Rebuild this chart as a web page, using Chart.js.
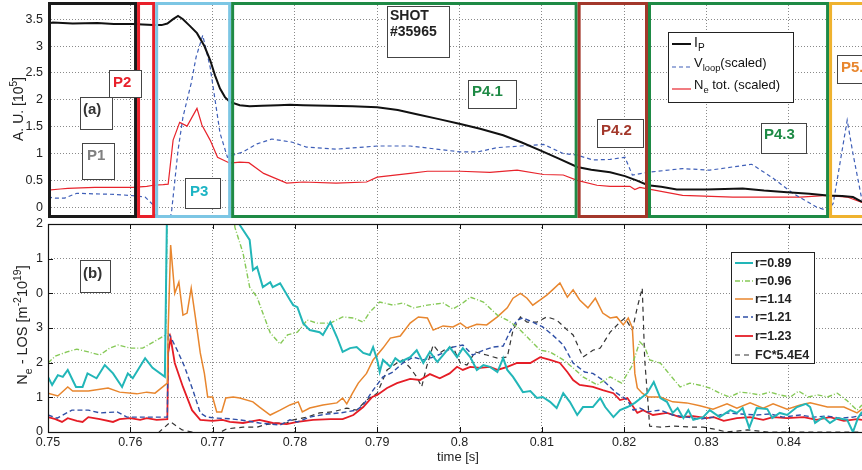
<!DOCTYPE html>
<html>
<head>
<meta charset="utf-8">
<script src="https://cdn.jsdelivr.net/npm/chart.js@4.4.0/dist/chart.umd.min.js"></script>
<style>
html, body { margin: 0; padding: 0; background: #fff; }
#wrap { position: relative; width: 862px; height: 470px; overflow: hidden; }
canvas { position: absolute; left: 0; }
#ca { top: 0; }
#cb { top: 212px; }
</style>
</head>
<body>
<div id="wrap">
  <canvas id="ca" width="862" height="222"></canvas>
  <canvas id="cb" width="862" height="258"></canvas>
</div>
<script>
// ---------- data ----------
const xTicks = [0.75, 0.76, 0.77, 0.78, 0.79, 0.80, 0.81, 0.82, 0.83, 0.84];
const yTicksA = [0, 0.5, 1, 1.5, 2, 2.5, 3, 3.5];
const yLabelsA = ['0', '0.5', '1', '1.5', '2', '2.5', '3', '3.5'];
const yTicksB = [0, 1, 2, 3, 4, 5, 6];
const yLabelsB = ['0', '1', '2', '3', '0', '1', '2'];

// panel (a)
const ipData = [[0.7500,3.42],[0.7506,3.44],[0.7530,3.42],[0.7560,3.43],[0.7580,3.41],[0.7603,3.41],[0.7615,3.40],[0.7628,3.39],[0.7638,3.39],[0.7645,3.42],[0.7652,3.50],[0.7658,3.56],[0.7664,3.50],[0.7672,3.38],[0.7681,3.24],[0.7690,3.00],[0.7697,2.74],[0.7703,2.45],[0.7709,2.21],[0.7715,2.05],[0.7721,1.96],[0.7733,1.90],[0.7745,1.88],[0.7760,1.89],[0.7780,1.90],[0.7794,1.91],[0.7810,1.90],[0.7840,1.89],[0.7870,1.88],[0.7900,1.86],[0.7925,1.81],[0.7948,1.73],[0.7975,1.64],[0.8001,1.55],[0.8025,1.46],[0.8053,1.34],[0.8075,1.21],[0.8098,1.06],[0.8120,0.91],[0.8143,0.75],[0.8160,0.70],[0.8183,0.65],[0.8201,0.58],[0.8215,0.50],[0.8229,0.41],[0.8245,0.38],[0.8264,0.33],[0.8300,0.33],[0.8344,0.35],[0.8370,0.31],[0.8398,0.28],[0.8425,0.25],[0.8447,0.22],[0.8465,0.21],[0.8478,0.19],[0.8489,0.10]];
const vloopData = [[0.7500,0.19],[0.7509,0.17],[0.7520,0.17],[0.7535,0.26],[0.7555,0.25],[0.7580,0.24],[0.7600,0.22],[0.7618,0.19],[0.7628,0.04],[0.7634,-0.4],[0.7645,-0.4],[0.7650,-0.1],[0.7658,1.06],[0.7664,1.68],[0.7674,2.31],[0.7680,2.80],[0.7688,3.20],[0.7697,2.61],[0.7709,1.38],[0.7718,0.93],[0.7725,0.97],[0.7737,1.03],[0.7754,1.18],[0.7772,1.27],[0.7797,1.21],[0.7814,1.12],[0.7850,1.08],[0.7900,1.14],[0.7940,1.14],[0.8001,1.03],[0.8022,1.03],[0.8046,1.11],[0.8074,1.14],[0.8102,1.17],[0.8126,1.00],[0.8143,0.97],[0.8162,0.88],[0.8183,0.89],[0.8201,0.93],[0.8210,0.60],[0.8229,0.65],[0.8271,0.72],[0.8304,0.69],[0.8355,0.80],[0.8381,0.54],[0.8405,0.26],[0.8434,0.00],[0.8447,-0.06],[0.8454,0.07],[0.8471,1.62],[0.8478,1.00],[0.8489,0.13]];
const neTotData = [[0.7500,0.32],[0.7515,0.34],[0.7524,0.35],[0.7540,0.36],[0.7557,0.37],[0.7580,0.37],[0.7603,0.37],[0.7620,0.39],[0.7628,0.41],[0.7640,0.42],[0.7646,0.43],[0.7652,1.25],[0.7660,1.58],[0.7669,1.51],[0.7681,1.84],[0.7687,1.53],[0.7697,1.25],[0.7706,0.93],[0.7721,0.82],[0.7733,0.84],[0.7744,0.83],[0.7762,0.63],[0.7790,0.45],[0.7810,0.47],[0.7850,0.45],[0.7887,0.47],[0.7900,0.56],[0.7940,0.63],[0.7961,0.67],[0.8001,0.67],[0.8037,0.65],[0.8070,0.69],[0.8102,0.61],[0.8126,0.60],[0.8143,0.50],[0.8167,0.41],[0.8183,0.39],[0.8207,0.39],[0.8213,0.33],[0.8219,0.37],[0.8271,0.22],[0.8332,0.19],[0.8414,0.19],[0.8447,0.22],[0.8471,0.19],[0.8489,0.09]];

// panel (b)
const r089 = [[0.7500,1.59],[0.7505,1.36],[0.7512,1.64],[0.7518,1.59],[0.7524,1.79],[0.7534,1.30],[0.7542,1.30],[0.7548,1.69],[0.7559,1.55],[0.7569,1.93],[0.7579,1.69],[0.7590,1.30],[0.7597,1.69],[0.7603,1.55],[0.7618,2.13],[0.7627,1.85],[0.7642,1.59],[0.7646,9.0],[0.7725,9.0],[0.7733,5.97],[0.7745,5.54],[0.7749,4.67],[0.7754,4.76],[0.7761,4.18],[0.7770,4.32],[0.7773,4.18],[0.7782,4.29],[0.7794,3.81],[0.7798,3.66],[0.7803,3.60],[0.7810,3.14],[0.7818,2.94],[0.7830,2.88],[0.7834,2.80],[0.7843,3.17],[0.7851,2.74],[0.7858,2.31],[0.7867,2.42],[0.7875,2.45],[0.7883,2.28],[0.7891,2.22],[0.7895,2.45],[0.7900,2.08],[0.7903,1.73],[0.7907,2.08],[0.7916,1.88],[0.7922,2.13],[0.7928,2.02],[0.7940,2.16],[0.7948,2.36],[0.7956,1.99],[0.7964,2.31],[0.7973,2.02],[0.7980,2.22],[0.7988,2.45],[0.7997,2.16],[0.8004,2.42],[0.8013,2.16],[0.8021,1.79],[0.8029,1.93],[0.8037,1.88],[0.8046,1.73],[0.8053,2.13],[0.8058,1.79],[0.8065,1.59],[0.8070,1.41],[0.8077,1.15],[0.8086,1.18],[0.8094,0.98],[0.8101,1.01],[0.8110,0.87],[0.8118,0.69],[0.8126,1.12],[0.8134,0.87],[0.8143,0.49],[0.8150,0.72],[0.8162,0.72],[0.8171,0.98],[0.8177,0.72],[0.8187,0.43],[0.8195,0.63],[0.8204,0.72],[0.8213,0.84],[0.8228,1.12],[0.8236,1.44],[0.8244,0.98],[0.8252,0.87],[0.8259,0.55],[0.8265,0.69],[0.8272,0.40],[0.8278,0.63],[0.8284,0.35],[0.8296,0.43],[0.8304,0.63],[0.8316,0.43],[0.8329,0.63],[0.8337,0.55],[0.8344,0.69],[0.8352,0.12],[0.8361,0.69],[0.8374,0.66],[0.8380,0.40],[0.8389,0.55],[0.8398,0.49],[0.8410,0.72],[0.8421,0.81],[0.8426,0.72],[0.8432,0.26],[0.8442,0.43],[0.8450,0.26],[0.8459,0.40],[0.8471,0.35],[0.8478,0.00],[0.8484,0.40],[0.8489,0.58]];
const r096 = [[0.7500,1.99],[0.7509,2.19],[0.7523,2.31],[0.7535,2.39],[0.7549,2.31],[0.7563,2.22],[0.7575,2.42],[0.7585,2.51],[0.7600,2.42],[0.7615,2.42],[0.7632,2.65],[0.7643,2.80],[0.7646,9.0],[0.7720,9.0],[0.7727,5.91],[0.7737,5.16],[0.7745,4.18],[0.7754,3.89],[0.7761,3.43],[0.7770,2.86],[0.7782,2.54],[0.7791,2.80],[0.7803,2.88],[0.7815,3.23],[0.7827,3.14],[0.7843,3.14],[0.7858,3.32],[0.7871,3.29],[0.7883,3.17],[0.7891,3.46],[0.7903,3.75],[0.7919,3.66],[0.7931,3.72],[0.7944,3.58],[0.7961,3.66],[0.7980,3.72],[0.7992,3.55],[0.8004,3.72],[0.8013,3.89],[0.8029,3.75],[0.8046,3.37],[0.8058,3.23],[0.8070,3.03],[0.8086,2.65],[0.8098,2.36],[0.8110,2.31],[0.8126,2.08],[0.8138,1.85],[0.8150,1.59],[0.8167,1.36],[0.8183,1.59],[0.8197,1.41],[0.8209,1.88],[0.8219,2.60],[0.8225,2.45],[0.8231,2.08],[0.8244,1.99],[0.8256,1.64],[0.8268,1.30],[0.8280,1.41],[0.8292,1.35],[0.8304,1.27],[0.8316,1.12],[0.8328,1.01],[0.8341,1.15],[0.8353,1.12],[0.8365,1.07],[0.8377,1.15],[0.8389,1.07],[0.8402,1.01],[0.8412,1.18],[0.8424,1.01],[0.8435,1.07],[0.8447,1.01],[0.8459,1.12],[0.8471,0.90],[0.8483,0.63],[0.8489,0.78]];
const r114 = [[0.7500,1.12],[0.7512,1.04],[0.7524,1.30],[0.7530,1.18],[0.7549,1.18],[0.7573,1.27],[0.7587,1.15],[0.7608,1.10],[0.7620,1.15],[0.7630,1.12],[0.7645,1.41],[0.7646,2.94],[0.7649,5.39],[0.7654,4.00],[0.7659,4.32],[0.7664,3.37],[0.7669,3.43],[0.7674,4.15],[0.7679,3.32],[0.7685,2.28],[0.7690,1.69],[0.7694,1.01],[0.7700,1.01],[0.7705,0.58],[0.7711,0.58],[0.7716,0.98],[0.7725,1.01],[0.7733,0.98],[0.7749,0.87],[0.7757,0.72],[0.7770,0.49],[0.7782,0.63],[0.7794,0.78],[0.7804,0.87],[0.7809,0.58],[0.7818,0.69],[0.7834,0.78],[0.7851,0.84],[0.7858,0.98],[0.7863,0.81],[0.7870,1.12],[0.7877,1.41],[0.7887,1.69],[0.7895,2.08],[0.7907,2.42],[0.7916,2.71],[0.7928,2.77],[0.7940,3.14],[0.7950,3.32],[0.7961,3.29],[0.7968,2.94],[0.7980,3.06],[0.7992,3.03],[0.8001,3.14],[0.8009,3.00],[0.8021,3.11],[0.8033,3.09],[0.8046,3.32],[0.8058,3.58],[0.8065,3.86],[0.8074,4.00],[0.8082,3.86],[0.8089,3.66],[0.8098,3.81],[0.8106,3.95],[0.8113,4.10],[0.8122,4.30],[0.8131,3.89],[0.8138,4.10],[0.8146,3.81],[0.8156,3.58],[0.8165,3.86],[0.8174,3.43],[0.8183,3.29],[0.8191,3.32],[0.8199,3.09],[0.8205,3.29],[0.8210,3.00],[0.8213,1.69],[0.8216,1.27],[0.8222,1.12],[0.8229,1.01],[0.8244,1.01],[0.8259,0.87],[0.8276,0.84],[0.8292,0.76],[0.8308,0.66],[0.8325,0.81],[0.8337,0.69],[0.8353,0.84],[0.8369,0.69],[0.8381,0.81],[0.8398,0.66],[0.8414,0.78],[0.8426,0.84],[0.8447,0.72],[0.8467,0.72],[0.8483,0.55],[0.8489,0.66]];
const r121 = [[0.7500,0.49],[0.7511,0.40],[0.7529,0.63],[0.7549,0.63],[0.7563,0.55],[0.7584,0.58],[0.7596,0.43],[0.7612,0.43],[0.7627,0.43],[0.7645,0.43],[0.7646,2.86],[0.7649,2.74],[0.7657,2.36],[0.7666,1.88],[0.7676,1.21],[0.7685,0.55],[0.7693,0.43],[0.7705,0.40],[0.7721,0.38],[0.7733,0.35],[0.7757,0.26],[0.7782,0.20],[0.7794,0.35],[0.7803,0.29],[0.7818,0.43],[0.7839,0.52],[0.7855,0.55],[0.7875,0.63],[0.7883,0.78],[0.7895,1.21],[0.7907,1.59],[0.7919,1.73],[0.7931,1.99],[0.7944,2.16],[0.7956,2.08],[0.7968,2.16],[0.7980,2.28],[0.7992,2.45],[0.8004,2.51],[0.8016,2.22],[0.8029,2.36],[0.8041,2.45],[0.8053,2.48],[0.8061,2.88],[0.8070,3.23],[0.8077,3.29],[0.8089,3.17],[0.8101,3.03],[0.8113,2.80],[0.8126,2.51],[0.8138,1.99],[0.8152,1.73],[0.8162,1.69],[0.8174,1.50],[0.8183,1.30],[0.8191,1.12],[0.8204,0.92],[0.8211,0.63],[0.8219,0.69],[0.8228,0.58],[0.8244,0.63],[0.8259,0.49],[0.8276,0.43],[0.8292,0.37],[0.8308,0.43],[0.8325,0.55],[0.8341,0.52],[0.8361,0.49],[0.8377,0.52],[0.8393,0.43],[0.8414,0.49],[0.8430,0.43],[0.8447,0.46],[0.8462,0.40],[0.8478,0.43],[0.8489,0.49]];
const r123 = [[0.7500,0.43],[0.7509,0.37],[0.7517,0.29],[0.7524,0.40],[0.7535,0.32],[0.7542,0.29],[0.7549,0.43],[0.7563,0.37],[0.7579,0.29],[0.7587,0.37],[0.7600,0.40],[0.7612,0.35],[0.7620,0.40],[0.7632,0.35],[0.7645,0.37],[0.7646,2.28],[0.7649,2.71],[0.7654,1.99],[0.7664,1.30],[0.7675,0.63],[0.7685,0.35],[0.7700,0.32],[0.7712,0.35],[0.7721,0.29],[0.7737,0.26],[0.7757,0.35],[0.7773,0.26],[0.7790,0.23],[0.7803,0.29],[0.7822,0.35],[0.7843,0.37],[0.7858,0.37],[0.7871,0.49],[0.7883,0.72],[0.7894,1.01],[0.7900,1.07],[0.7912,1.27],[0.7924,1.41],[0.7940,1.53],[0.7952,1.50],[0.7964,1.67],[0.7976,1.55],[0.7988,1.69],[0.7997,1.88],[0.8004,1.79],[0.8013,1.88],[0.8025,1.85],[0.8037,1.88],[0.8046,1.79],[0.8058,1.88],[0.8070,1.99],[0.8086,1.99],[0.8098,2.16],[0.8110,2.08],[0.8122,1.99],[0.8131,1.73],[0.8138,1.50],[0.8146,1.36],[0.8162,1.30],[0.8174,1.21],[0.8187,1.12],[0.8195,0.92],[0.8204,0.98],[0.8216,0.55],[0.8223,0.63],[0.8235,0.49],[0.8252,0.55],[0.8268,0.43],[0.8284,0.46],[0.8300,0.40],[0.8309,0.43],[0.8321,0.32],[0.8337,0.40],[0.8353,0.43],[0.8369,0.35],[0.8381,0.43],[0.8398,0.40],[0.8418,0.43],[0.8434,0.35],[0.8450,0.43],[0.8467,0.32],[0.8483,0.37],[0.8489,0.35]];
const fcData = [[0.7500,-0.3],[0.7630,-0.3],[0.7635,0.00],[0.7649,0.29],[0.7663,0.06],[0.7675,0.00],[0.7690,-0.1],[0.7702,-0.1],[0.7717,0.09],[0.7737,0.14],[0.7754,0.14],[0.7762,0.20],[0.7778,0.26],[0.7790,0.26],[0.7798,0.35],[0.7815,0.43],[0.7830,0.55],[0.7846,0.58],[0.7863,0.69],[0.7875,0.63],[0.7887,0.92],[0.7900,1.12],[0.7912,1.79],[0.7924,1.99],[0.7931,2.08],[0.7940,1.85],[0.7948,1.59],[0.7954,1.30],[0.7960,1.88],[0.7968,2.51],[0.7976,2.28],[0.7985,2.42],[0.7992,2.45],[0.8001,1.99],[0.8009,1.93],[0.8019,2.31],[0.8033,2.22],[0.8046,2.13],[0.8058,2.16],[0.8065,2.94],[0.8074,3.32],[0.8082,3.17],[0.8094,3.17],[0.8106,3.32],[0.8118,3.23],[0.8131,2.94],[0.8138,2.80],[0.8150,2.16],[0.8162,2.36],[0.8171,2.42],[0.8183,2.88],[0.8195,3.17],[0.8201,3.29],[0.8210,2.94],[0.8216,3.60],[0.8222,4.15],[0.8225,2.08],[0.8229,0.84],[0.8231,0.17],[0.8244,0.14],[0.8259,0.17],[0.8284,0.14],[0.8296,0.14],[0.8308,0.09],[0.8325,0.00],[0.8350,0.06],[0.8375,0.00],[0.8400,0.00],[0.8489,0.00]];

// discharge phases (time edges) shown as coloured frames in panel (a)
const phaseEdges = [0.75, 0.76082, 0.76302, 0.77225, 0.81435, 0.8229, 0.8449, 0.8600];
const phaseColors = ['#1a1a1a', '#e8202a', '#7cc6e4', '#1e8a45', '#a3382b', '#1e8a45', '#efb22e'];

// ---------- helpers ----------
const FONT = '"Liberation Sans", Arial, Helvetica, sans-serif';
const NARROW = '"Liberation Sans Narrow", "Liberation Sans", Arial, sans-serif';
const XMIN = 0.75, XMAX = 0.8489;
const toXY = arr => arr.map(p => ({ x: p[0], y: p[1] }));

function line(label, data, color, width, dash) {
    return {
        label: label, data: toXY(data), borderColor: color, borderWidth: width,
        borderDash: dash || [], pointRadius: 0, fill: false, tension: 0
    };
}

function measureRich(ctx, parts, size, weight) {
    let w = 0;
    parts.forEach(([t, k]) => {
        const s = k === 'n' ? size : size * 0.72;
        ctx.font = `${weight} ${s}px ${FONT}`;
        w += ctx.measureText(t).width;
    });
    return w;
}

function drawRich(ctx, parts, x, y, size, weight, color) {
    let cx = x;
    ctx.textBaseline = 'alphabetic';
    ctx.textAlign = 'left';
    parts.forEach(([t, k]) => {
        const s = k === 'n' ? size : size * 0.72;
        const dy = k === 'b' ? size * 0.32 : (k === 'p' ? -size * 0.42 : 0);
        ctx.font = `${weight} ${s}px ${FONT}`;
        ctx.fillStyle = color;
        ctx.fillText(t, cx, y + dy);
        cx += ctx.measureText(t).width;
    });
}

function vTitle(ctx, parts, x, yc, size) {
    ctx.save();
    ctx.translate(x, yc);
    ctx.rotate(-Math.PI / 2);
    const w = measureRich(ctx, parts, size, 'normal');
    drawRich(ctx, parts, -w / 2, size * 0.36, size, 'normal', '#222');
    ctx.restore();
}

function labelBox(ctx, b) {
    ctx.save();
    ctx.fillStyle = '#fff';
    ctx.fillRect(b.x, b.y, b.w, b.h);
    ctx.strokeStyle = '#444';
    ctx.lineWidth = 1;
    ctx.strokeRect(b.x + 0.5, b.y + 0.5, b.w, b.h);
    ctx.fillStyle = b.color;
    ctx.font = `bold ${b.size || 15}px ${FONT}`;
    ctx.textBaseline = 'middle';
    ctx.textAlign = 'left';
    b.lines.forEach((t, i) => ctx.fillText(t, b.x + b.px, b.y + b.py + i * 16));
    ctx.restore();
}

function legendSample(ctx, ds, x1, x2, y) {
    ctx.save();
    ctx.strokeStyle = ds.borderColor;
    ctx.lineWidth = Math.max(1.2, ds.borderWidth);
    ctx.setLineDash(ds.borderDash);
    ctx.beginPath();
    ctx.moveTo(x1, y);
    ctx.lineTo(x2, y);
    ctx.stroke();
    ctx.restore();
}

function fixAxis(size, horizontal) {
    return s => {
        if (horizontal) s.height = size; else s.width = size;
        s.paddingLeft = s.paddingRight = s.paddingTop = s.paddingBottom = 0;
    };
}

const gridOpts = { color: '#8a8a8a', lineWidth: 1, drawTicks: false };
const borderOpts = { display: false, dash: [1, 2] };

// ---------- panel (a) ----------
const boxesA = [
    { x: 80, y: 97, w: 32, h: 32, px: 3, py: 13, lines: ['(a)'], color: '#333' },
    { x: 82, y: 143, w: 32, h: 36, px: 5, py: 13, lines: ['P1'], color: '#808080' },
    { x: 109, y: 70, w: 32, h: 27, px: 4, py: 13, lines: ['P2'], color: '#e8202a' },
    { x: 185, y: 178, w: 35, h: 30, px: 5, py: 14, lines: ['P3'], color: '#1db4c4' },
    { x: 387, y: 6, w: 62, h: 51, px: 3, py: 10, lines: ['SHOT', '#35965'], color: '#222', size: 14 },
    { x: 468, y: 80, w: 48, h: 28, px: 4, py: 12, lines: ['P4.1'], color: '#1e8a45' },
    { x: 597, y: 119, w: 46, h: 28, px: 4, py: 12, lines: ['P4.2'], color: '#a3382b' },
    { x: 761, y: 123, w: 45, h: 30, px: 3, py: 12, lines: ['P4.3'], color: '#1e8a45' },
    { x: 837, y: 55, w: 40, h: 28, px: 4, py: 13, lines: ['P5.'], color: '#e8862e' }
];

const panelAPlugin = {
    id: 'panelA',
    afterDraw(chart) {
        const ctx = chart.ctx, area = chart.chartArea, xs = chart.scales.x;
        // phase frames
        ctx.save();
        ctx.lineWidth = 3;
        for (let i = 0; i < phaseColors.length; i++) {
            const x1 = xs.getPixelForValue(phaseEdges[i]);
            const x2 = xs.getPixelForValue(phaseEdges[i + 1]);
            ctx.strokeStyle = phaseColors[i];
            ctx.strokeRect(x1 + 1.5, area.top + 1.5, x2 - x1 - 3, area.bottom - area.top - 3);
        }
        ctx.restore();
        boxesA.forEach(b => labelBox(ctx, b));

        // legend
        ctx.save();
        ctx.fillStyle = '#fff';
        ctx.fillRect(668, 32, 125, 70);
        ctx.strokeStyle = '#222';
        ctx.lineWidth = 1;
        ctx.strokeRect(668.5, 32.5, 125, 70);
        ctx.restore();
        const ds = chart.data.datasets;
        legendSample(ctx, ds[0], 672, 691, 44);
        legendSample(ctx, ds[1], 672, 691, 67);
        legendSample(ctx, ds[2], 672, 691, 89);
        drawRich(ctx, [['I', 'n'], ['P', 'b']], 694, 47, 14, 'normal', '#111');
        drawRich(ctx, [['V', 'n'], ['loop', 'b'], ['(scaled)', 'n']], 694, 67, 13, 'normal', '#111');
        drawRich(ctx, [['N', 'n'], ['e', 'b'], [' tot. (scaled)', 'n']], 694, 89, 13, 'normal', '#111');

        vTitle(ctx, [['A. U. [10', 'n'], ['5', 'p'], [']', 'n']], 18, 109, 14);
    }
};

new Chart(document.getElementById('ca'), {
    type: 'line',
    data: {
        datasets: [
            line('IP', ipData, '#111111', 2),
            line('Vloop (scaled)', vloopData, '#3f5fb8', 1.2, [4, 3]),
            line('Ne tot. (scaled)', neTotData, '#e8242c', 1.2)
        ]
    },
    options: {
        responsive: false,
        animation: false,
        layout: { padding: { top: 2, bottom: 4, left: 0, right: 0 } },
        plugins: { legend: { display: false }, tooltip: { enabled: false } },
        scales: {
            x: {
                type: 'linear', min: XMIN, max: XMAX,
                afterBuildTicks: s => { s.ticks = xTicks.map(v => ({ value: v })); },
                afterFit: fixAxis(0, true),
                ticks: { display: false },
                grid: gridOpts, border: borderOpts
            },
            y: {
                min: -0.2, max: 3.82,
                afterBuildTicks: s => { s.ticks = yTicksA.map(v => ({ value: v })); },
                afterFit: fixAxis(48, false),
                ticks: {
                    padding: 5, color: '#222', font: { family: NARROW, size: 12.5 },
                    autoSkip: false,
                    callback: (v, i) => yLabelsA[i]
                },
                grid: gridOpts, border: borderOpts
            }
        }
    },
    plugins: [panelAPlugin]
});

// ---------- panel (b) ----------
const panelBPlugin = {
    id: 'panelB',
    afterDraw(chart) {
        const ctx = chart.ctx, area = chart.chartArea;
        const xs = chart.scales.x, ys = chart.scales.y;
        ctx.save();
        ctx.strokeStyle = '#111';
        ctx.lineWidth = 1.2;
        ctx.strokeRect(area.left + 0.5, area.top + 0.5, area.right - area.left + 4, area.bottom - area.top);
        ctx.lineWidth = 1;
        ctx.beginPath();
        xTicks.forEach(v => {
            const px = Math.round(xs.getPixelForValue(v)) + 0.5;
            ctx.moveTo(px, area.bottom); ctx.lineTo(px, area.bottom - 5);
            ctx.moveTo(px, area.top); ctx.lineTo(px, area.top + 5);
        });
        yTicksB.forEach(v => {
            const py = Math.round(ys.getPixelForValue(v)) + 0.5;
            ctx.moveTo(area.left, py); ctx.lineTo(area.left + 5, py);
        });
        ctx.stroke();

        // y tick labels (the original figure repeats digits: 0 1 2 3 0 1 2)
        ctx.font = `12.5px ${NARROW}`;
        ctx.fillStyle = '#222';
        ctx.textAlign = 'right';
        ctx.textBaseline = 'middle';
        yTicksB.forEach((v, i) => ctx.fillText(yLabelsB[i], area.left - 5, ys.getPixelForValue(v)));
        ctx.restore();

        labelBox(ctx, { x: 80, y: 48, w: 30, h: 32, px: 3, py: 14, lines: ['(b)'], color: '#333' });

        // legend
        ctx.save();
        ctx.fillStyle = '#fff';
        ctx.fillRect(731, 40, 83, 111);
        ctx.strokeStyle = '#222';
        ctx.lineWidth = 1;
        ctx.strokeRect(731.5, 40.5, 83, 111);
        ctx.restore();
        const names = ['r=0.89', 'r=0.96', 'r=1.14', 'r=1.21', 'r=1.23', 'FC*5.4E4'];
        const rows = [51, 69, 87, 105, 124, 143];
        chart.data.datasets.forEach((ds, i) => {
            legendSample(ctx, ds, 735, 753, rows[i]);
            ctx.font = `bold 12.5px ${FONT}`;
            ctx.fillStyle = '#222';
            ctx.textBaseline = 'middle';
            ctx.textAlign = 'left';
            ctx.fillText(names[i], 755, rows[i] + 1);
        });

        vTitle(ctx, [['N', 'n'], ['e', 'b'], [' - LOS [m', 'n'], ['-2', 'p'], ['10', 'n'], ['19', 'p'], [']', 'n']], 22, 113, 14.5);

        ctx.save();
        ctx.font = `13px ${FONT}`;
        ctx.fillStyle = '#222';
        ctx.textAlign = 'center';
        ctx.textBaseline = 'middle';
        ctx.fillText('time [s]', 458, 245);
        ctx.restore();
    }
};

new Chart(document.getElementById('cb'), {
    type: 'line',
    data: {
        datasets: [
            line('r=0.89', r089, '#22b6b8', 2),
            line('r=0.96', r096, '#86c957', 1.4, [5, 2, 1, 2]),
            line('r=1.14', r114, '#e8862e', 1.5),
            line('r=1.21', r121, '#2f4fa6', 1.4, [5, 3]),
            line('r=1.23', r123, '#e51d26', 1.8),
            line('FC*5.4E4', fcData, '#333333', 1.2, [5, 4])
        ]
    },
    options: {
        responsive: false,
        animation: false,
        layout: { padding: { top: 12, bottom: 0, left: 0, right: 0 } },
        plugins: { legend: { display: false }, tooltip: { enabled: false } },
        scales: {
            x: {
                type: 'linear', min: XMIN, max: XMAX,
                afterBuildTicks: s => { s.ticks = xTicks.map(v => ({ value: v })); },
                afterFit: fixAxis(38, true),
                ticks: {
                    padding: 3, color: '#222', font: { family: NARROW, size: 12.5 },
                    maxRotation: 0, autoSkip: false,
                    callback: v => String(+v.toFixed(2))
                },
                grid: gridOpts, border: borderOpts
            },
            y: {
                min: 0, max: 6,
                afterBuildTicks: s => { s.ticks = yTicksB.map(v => ({ value: v })); },
                afterFit: fixAxis(48, false),
                ticks: { display: false },
                grid: gridOpts, border: borderOpts
            }
        }
    },
    plugins: [panelBPlugin]
});
</script>
</body>
</html>
